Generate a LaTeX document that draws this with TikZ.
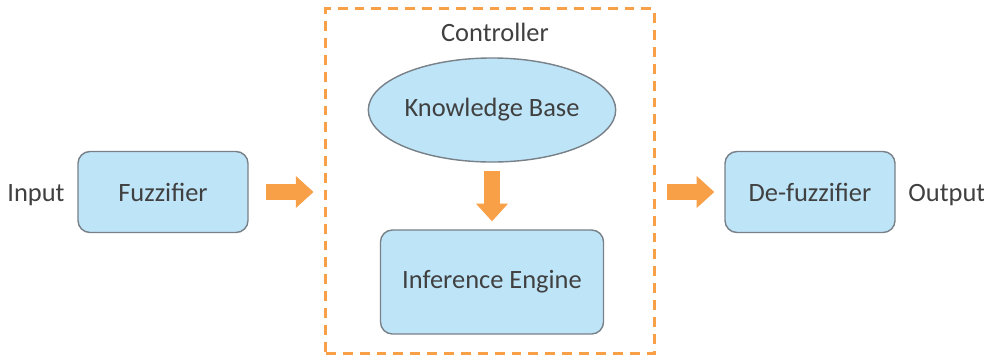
\documentclass[tikz,border=0pt]{standalone}
\usepackage{fontspec}
\setmainfont{Carlito}
\usetikzlibrary{shapes.geometric,arrows.meta,positioning}
\definecolor{boxblue}{RGB}{190,228,248}
\definecolor{boxline}{RGB}{120,128,136}
\definecolor{flow}{RGB}{247,160,72}
\definecolor{txt}{RGB}{64,64,64}
\tikzset{
  every picture/.style={line width=1pt},
  sfont/.style={font=\fontsize{18.8}{22}\selectfont, text=txt},
  sblock/.style={sfont, draw=boxline, fill=boxblue, rounded corners=0.3cm, inner sep=0pt},
  skb/.style={sfont, ellipse, draw=boxline, fill=boxblue, inner sep=0pt},
  sctrl/.style={draw=flow, line width=2.1pt, dash pattern=on 7pt off 5pt, inner sep=0pt},
  sflow/.style={draw=flow, line width=0.4cm,
                -{Triangle[width=0.8cm, length=0.44cm, line width=0pt, fill=flow]}},
  slabel/.style={sfont, inner sep=0pt},
}

\begin{document}
\begin{tikzpicture}[x=0.025cm, y=-0.025cm]
\useasboundingbox (0,0) rectangle (984,356);
\node[sblock, minimum width=4.25cm, minimum height=2.025cm] (fuzz) at (163,192) {Fuzzifier};
\node[slabel, anchor=base east] (input) at ([xshift=-0.3cm]fuzz.base west) {Input};
\node[sctrl, minimum width=8.2cm, minimum height=8.6cm] (ctrl) at (490,181) {};
\node[slabel] (ctrltitle) at (495,32) {Controller};
\node[skb, minimum width=5.575cm, minimum height=2.6cm] (kb) at (492,110) {Knowledge Base};
\node[sblock, minimum width=5.575cm, minimum height=2.6cm] (ie) at (492,282) {Inference Engine};
\node[sblock, minimum width=4.25cm, minimum height=2.025cm] (defuzz) at (810,192) {De-fuzzifier};
\node[slabel, anchor=base west] (output) at ([xshift=0.3cm]defuzz.base east) {Output};
% flow between the stages
\draw[sflow, shorten <=0.425cm, shorten >=0.275cm] (fuzz.east) -- (fuzz.east -| ctrl.west);
\draw[sflow, shorten <=0.2cm, shorten >=0.2cm] (kb.south) -- (ie.north);
\draw[sflow, shorten <=0.275cm, shorten >=0.25cm] (defuzz.west -| ctrl.east) -- (defuzz.west);
\end{tikzpicture}
\end{document}
